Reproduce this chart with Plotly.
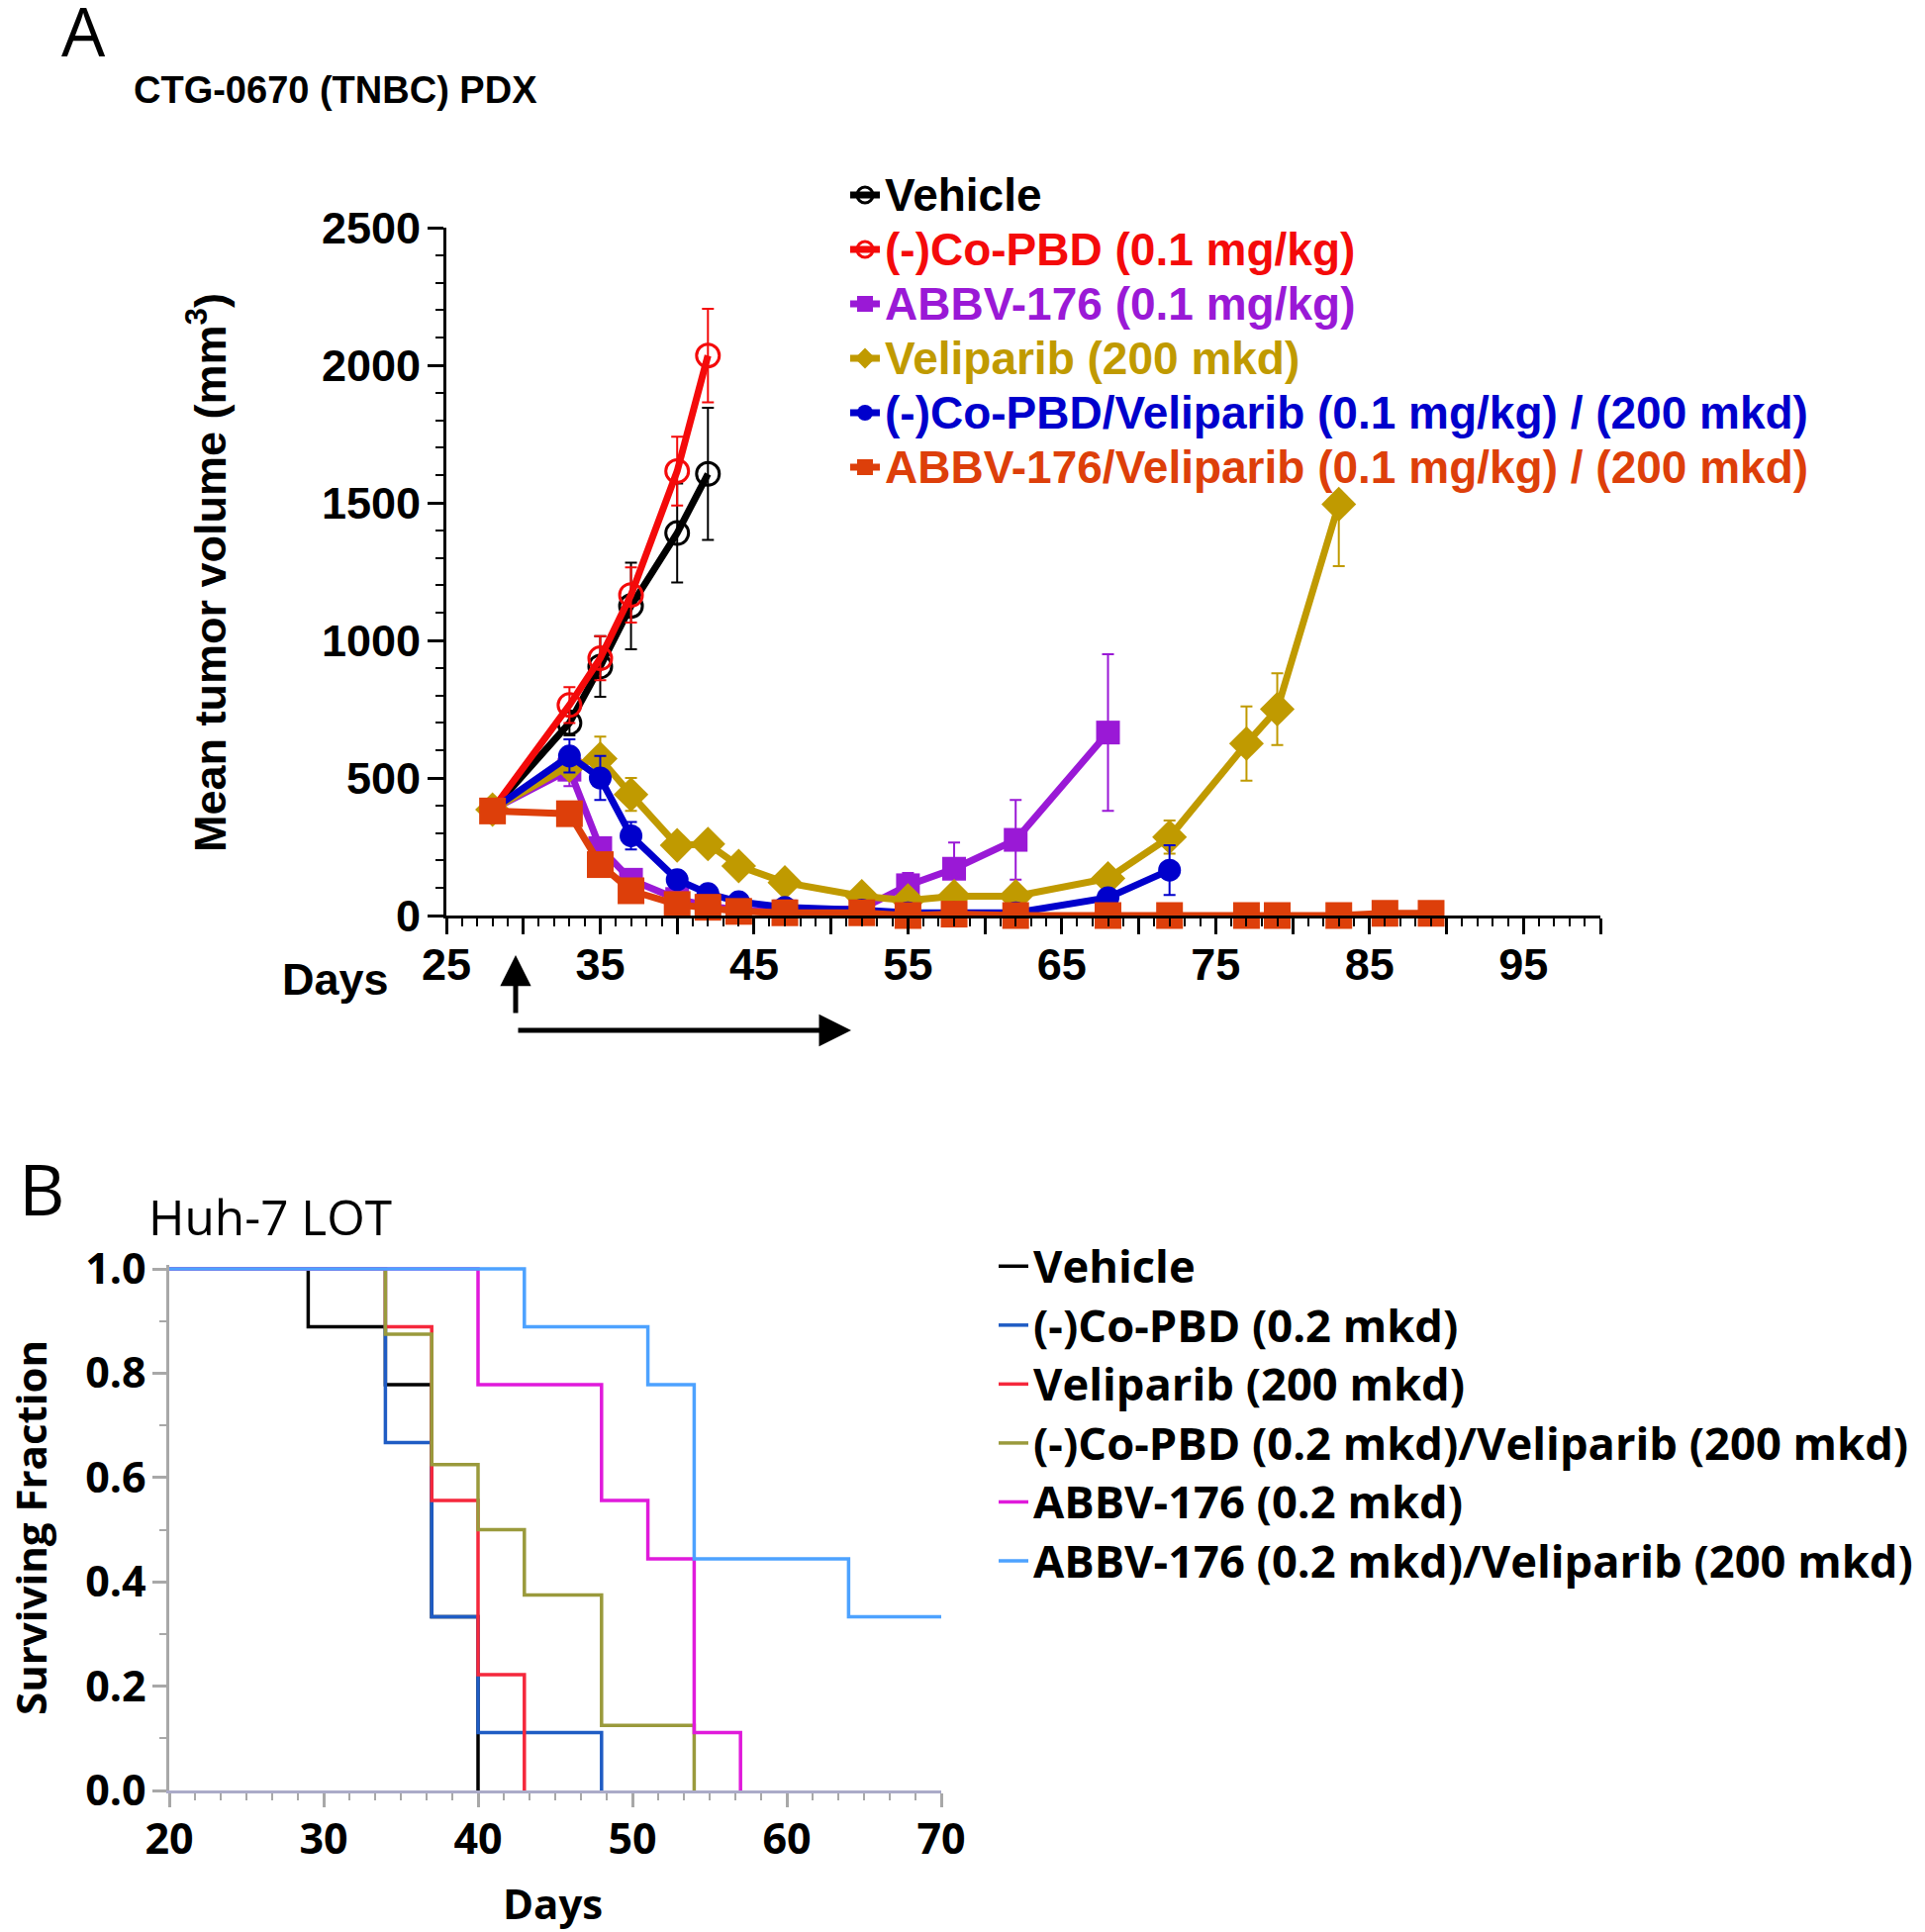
import plotly.graph_objects as go

# ---------------- Panel A data (CTG-0670 TNBC PDX) ----------------
days_vehicle = [28, 33, 35, 37, 40, 42]
vehicle = [385, 700, 905, 1125, 1390, 1605]
vehicle_err = [20, 45, 110, 157, 180, 240]

days_copbd = [28, 33, 35, 37, 40, 42]
copbd = [385, 765, 935, 1165, 1615, 2035]
copbd_err = [20, 65, 80, 100, 125, 170]

days_abbv = [28, 33, 35, 37, 40, 42, 44, 47, 52, 55, 58, 62, 68]
abbv = [385, 530, 245, 130, 60, 35, 20, 15, 25, 110, 170, 275, 665]
abbv_err = [15, 60, 30, 25, 15, 10, 5, 5, 10, 45, 95, 145, 285]

days_veli = [28, 33, 35, 37, 40, 42, 44, 47, 52, 55, 58, 62, 68, 72, 77, 79, 83]
veli = [385, 545, 570, 440, 255, 260, 180, 120, 70, 55, 70, 70, 135, 285, 625, 750, 1495]
veli_err_up = [15, 40, 80, 60, 35, 30, 20, 15, 10, 10, 15, 15, 20, 60, 135, 130, 0]
veli_err_down = [15, 40, 80, 60, 35, 30, 20, 15, 10, 10, 15, 15, 20, 60, 135, 130, 225]

days_combo1 = [28, 33, 35, 37, 40, 42, 44, 47, 52, 55, 58, 62, 68, 72]
combo1 = [385, 580, 500, 290, 130, 80, 50, 30, 20, 10, 10, 10, 65, 165]
combo1_err = [15, 60, 80, 50, 20, 15, 10, 5, 5, 5, 5, 5, 15, 90]

days_combo2 = [28, 33, 35, 37, 40, 42, 44, 47, 52, 55, 58, 62, 68, 72, 77, 79, 83, 86, 89]
combo2 = [380, 370, 185, 90, 40, 30, 15, 10, 10, 0, 5, 0, 0, 0, 0, 0, 0, 8, 8]
combo2_err = [15, 30, 20, 15, 10, 5, 5, 5, 5, 0, 0, 0, 0, 0, 0, 0, 0, 0, 0]

names_A = ["Vehicle", "(-)Co-PBD (0.1 mg/kg)", "ABBV-176 (0.1 mg/kg)", "Veliparib (200 mkd)",
           "(-)Co-PBD/Veliparib (0.1 mg/kg) / (200 mkd)", "ABBV-176/Veliparib (0.1 mg/kg) / (200 mkd)"]
colors_A = ["#000000", "#F40A0A", "#9A19D6", "#C09A00", "#0000CC", "#DD3F0A"]

xtick_vals_A = [25, 30, 35, 40, 45, 50, 55, 60, 65, 70, 75, 80, 85, 90, 95, 100]
xtick_text_A = ["25", "", "35", "", "45", "", "55", "", "65", "", "75", "", "85", "", "95", ""]

# ---------------- Panel B data (Huh-7 LOT survival) ----------------
surv_days_vehicle = [20, 29, 34, 37, 40]
surv_vehicle = [1.0, 0.889, 0.778, 0.333, 0.0]
surv_days_copbd = [20, 34, 37, 40, 48]
surv_copbd = [1.0, 0.667, 0.333, 0.111, 0.0]
surv_days_veli = [20, 34, 37, 40, 43]
surv_veli = [1.0, 0.889, 0.556, 0.222, 0.0]
surv_days_combo1 = [20, 34, 37, 40, 43, 48, 54]
surv_combo1 = [1.0, 0.875, 0.625, 0.5, 0.375, 0.125, 0.0]
surv_days_abbv = [20, 40, 48, 51, 54, 57]
surv_abbv = [1.0, 0.778, 0.556, 0.444, 0.111, 0.0]
surv_days_combo2 = [20, 43, 51, 54, 64, 70]
surv_combo2 = [1.0, 0.889, 0.778, 0.444, 0.333, 0.333]

names_B = ["Vehicle", "(-)Co-PBD (0.2 mkd)", "Veliparib (200 mkd)",
           "(-)Co-PBD (0.2 mkd)/Veliparib (200 mkd)", "ABBV-176 (0.2 mkd)",
           "ABBV-176 (0.2 mkd)/Veliparib (200 mkd)"]
colors_B = ["#000000", "#1F5CC4", "#F5283C", "#9A9A3C", "#E01ADB", "#4DA2FF"]

FONT_A = "Liberation Sans, Arial, sans-serif"
FONT_B = "Open Sans, Noto Sans, sans-serif"

W, H = 1945, 1952
OFF = 8  # page body margin offset


def fx(px):
    return (px - OFF) / W


def fy(py):
    return 1 - (py - OFF) / H


fig = go.Figure()


def legend_name(text, color, size):
    return f"<span style='color:{color};font-size:{size}px'>{text}</span>"


series_A = [
    (days_vehicle, vehicle, vehicle_err, vehicle_err, "circle-open"),
    (days_copbd, copbd, copbd_err, copbd_err, "circle-open"),
    (days_abbv, abbv, abbv_err, abbv_err, "square"),
    (days_veli, veli, veli_err_up, veli_err_down, "diamond"),
    (days_combo1, combo1, combo1_err, combo1_err, "circle"),
    (days_combo2, combo2, combo2_err, combo2_err, "square"),
]
sizes_A = [23, 23, 24, 27, 23, 27]
for (dx, vy, eu, ed, sym), nm, col, sz in zip(series_A, names_A, colors_A, sizes_A):
    fig.add_trace(go.Scatter(
        x=dx, y=vy, mode="lines+markers", name=legend_name(nm, col, 46),
        line=dict(color=col, width=7),
        marker=dict(symbol=sym, size=sz, color=col,
                    line=dict(color=col, width=3 if "open" in sym else 0)),
        error_y=dict(type="data", array=eu, arrayminus=ed, symmetric=False,
                     color=col, thickness=2, width=6),
        cliponaxis=False, xaxis="x", yaxis="y", legend="legend",
    ))

series_B = [
    (surv_days_vehicle, surv_vehicle),
    (surv_days_copbd, surv_copbd),
    (surv_days_veli, surv_veli),
    (surv_days_combo1, surv_combo1),
    (surv_days_abbv, surv_abbv),
    (surv_days_combo2, surv_combo2),
]
for (dx, vy), nm, col in zip(series_B, names_B, colors_B):
    fig.add_trace(go.Scatter(
        x=dx, y=vy, mode="lines", line_shape="hv", name=legend_name(nm, "#000000", 45.3),
        line=dict(color=col, width=3.5),
        xaxis="x2", yaxis="y2", legend="legend2",
    ))

fig.update_layout(
    width=W, height=H, autosize=False,
    margin=dict(l=0, r=0, t=0, b=0, pad=0, autoexpand=False),
    paper_bgcolor="white", plot_bgcolor="white",
    showlegend=True,
    xaxis=dict(
        domain=[fx(451), fx(1617)], range=[25, 100], anchor="y", automargin=False,
        showline=True, linecolor="black", linewidth=3, mirror=False,
        showgrid=False, zeroline=False,
        tickmode="array", tickvals=xtick_vals_A, ticktext=xtick_text_A,
        ticks="outside", ticklen=16, tickwidth=3, tickcolor="black",
        ticklabelstandoff=-8,
        tickfont=dict(family=FONT_A, size=45, color="black", weight="bold"),
        minor=dict(tickmode="linear", tick0=25, dtick=1, ticks="outside",
                   ticklen=8, tickwidth=2, tickcolor="black"),
    ),
    yaxis=dict(
        domain=[fy(925), fy(230)], range=[0, 2500], anchor="x", automargin=False,
        showline=True, linecolor="black", linewidth=3,
        showgrid=False, zeroline=False,
        tickmode="linear", tick0=0, dtick=500,
        ticks="outside", ticklen=16, tickwidth=3, tickcolor="black",
        ticklabelstandoff=-2,
        tickfont=dict(family=FONT_A, size=45, color="black", weight="bold"),
        minor=dict(tickmode="linear", tick0=0, dtick=100, ticks="outside",
                   ticklen=8, tickwidth=2, tickcolor="black"),
    ),
    xaxis2=dict(
        domain=[fx(171), fx(951)], range=[20, 70], anchor="y2", automargin=False,
        showline=True, linecolor="#ABABC8", linewidth=2.5,
        showgrid=False, zeroline=False,
        tickmode="linear", tick0=20, dtick=10,
        ticks="outside", ticklen=14, tickwidth=2.5, tickcolor="#A8A8A8",
        ticklabelstandoff=-4,
        tickfont=dict(family=FONT_B, size=43, color="black", weight="bold"),
        minor=dict(tickmode="linear", tick0=20, dtick=10 / 6, ticks="outside",
                   ticklen=7, tickwidth=2, tickcolor="#A8A8A8"),
    ),
    yaxis2=dict(
        domain=[fy(1809), fy(1277.8)], range=[0, 1.008], anchor="x2", automargin=False,
        showline=True, linecolor="#A8A8A8", linewidth=2.5,
        showgrid=False, zeroline=False,
        tickmode="linear", tick0=0, dtick=0.2, tickformat=".1f",
        ticks="outside", ticklen=14, tickwidth=2.5, tickcolor="#A8A8A8",
        ticklabelstandoff=-2,
        tickfont=dict(family=FONT_B, size=43, color="black", weight="bold"),
        minor=dict(tickmode="linear", tick0=0, dtick=0.1, ticks="outside",
                   ticklen=7, tickwidth=2, tickcolor="#A8A8A8"),
    ),
    legend=dict(
        x=fx(854), y=fy(164.5), xanchor="left", yanchor="top",
        bgcolor="rgba(0,0,0,0)", borderwidth=0,
        font=dict(family=FONT_A, size=40, color="black", weight="bold"),
        itemclick=False, itemdoubleclick=False,
    ),
    legend2=dict(
        x=fx(1004), y=fy(1244.5), xanchor="left", yanchor="top",
        bgcolor="rgba(0,0,0,0)", borderwidth=0,
        font=dict(family=FONT_B, size=43.5, color="black", weight="bold"),
        itemclick=False, itemdoubleclick=False,
    ),
)

annotations = [
    # panel letters and titles
    dict(text="A", x=fx(60), y=fy(30), xanchor="left", yanchor="middle",
         font=dict(family=FONT_B, size=70, color="black")),
    dict(text="CTG-0670 (TNBC) PDX", x=fx(133), y=fy(91), xanchor="left",
         yanchor="middle", font=dict(family=FONT_A, size=38, color="black", weight="bold")),
    dict(text="Mean tumor volume (mm<sup>3</sup>)", x=fx(209), y=fy(579),
         xanchor="center", yanchor="middle", textangle=-90,
         font=dict(family=FONT_A, size=45, color="black", weight="bold")),
    dict(text="Days", x=fx(339), y=fy(990), xanchor="center", yanchor="middle",
         font=dict(family=FONT_A, size=45, color="black", weight="bold")),
    dict(text="B", x=fx(17), y=fy(1200), xanchor="left", yanchor="middle",
         font=dict(family=FONT_B, size=72, color="black")),
    dict(text="Huh-7 LOT", x=fx(148), y=fy(1229), xanchor="left", yanchor="middle",
         font=dict(family=FONT_B, size=49.5, color="black")),
    dict(text="Surviving Fraction", x=fx(30), y=fy(1544), xanchor="center",
         yanchor="middle", textangle=-90,
         font=dict(family=FONT_B, size=42, color="black", weight="bold")),
    dict(text="Days", x=fx(558), y=fy(1922), xanchor="center", yanchor="middle",
         font=dict(family=FONT_B, size=42, color="black", weight="bold")),
    # treatment arrows
    dict(text="", x=fx(521), y=fy(965), ax=0, ay=60, showarrow=True,
         arrowhead=2, arrowsize=1.25, arrowwidth=5, arrowcolor="black"),
    dict(text="", x=fx(860), y=fy(1041), ax=-338, ay=0, showarrow=True,
         arrowhead=2, arrowsize=1.3, arrowwidth=5, arrowcolor="black"),
]
for a in annotations:
    a.setdefault("showarrow", False)
    a["xref"] = "paper"
    a["yref"] = "paper"
fig.update_layout(annotations=annotations)

fig.write_html("out.html")
